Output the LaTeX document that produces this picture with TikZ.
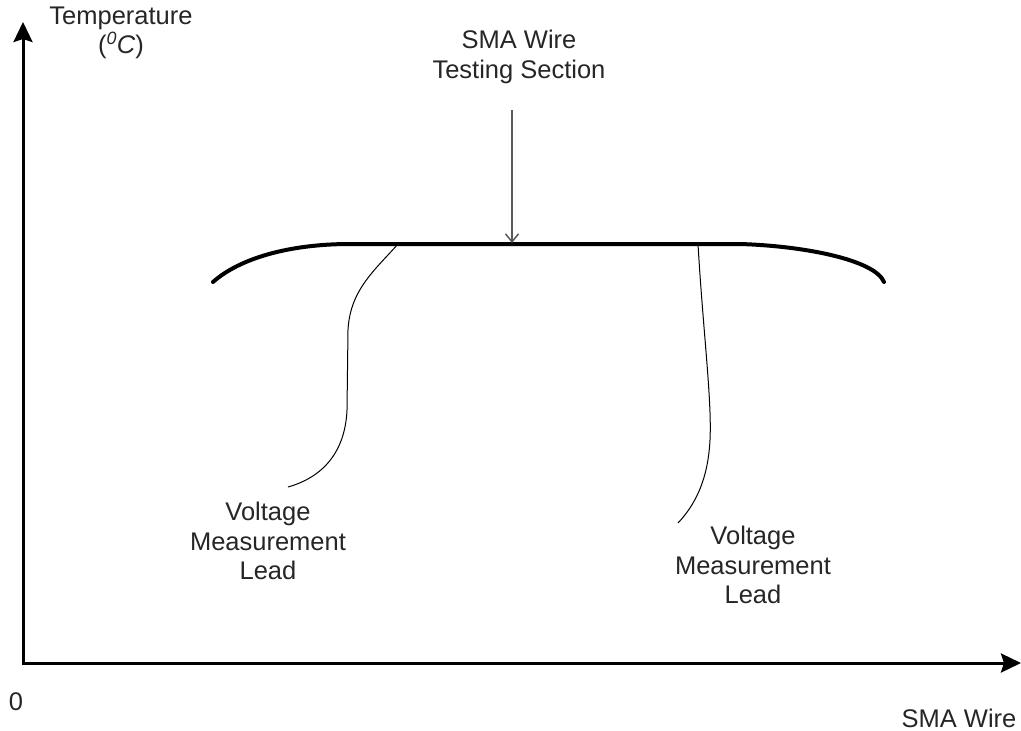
\documentclass[tikz,border=0pt]{standalone}
\usepackage{fontspec}
\setmainfont{Liberation Sans}
\usetikzlibrary{arrows.meta, positioning}
\begin{document}
\begin{tikzpicture}[
    x=1pt, y=-1pt,
    annot/.style={
        align=center,
        text=black!85,
        font=\fontsize{25.5}{29.5}\selectfont,
        inner sep=0pt
    },
    axis/.style={
        line width=3pt,
        {Stealth[length=20pt, width=19pt, inset=3pt]}-{Stealth[length=20pt, width=19pt, inset=3pt]}
    },
    wire/.style={line width=4pt, line cap=round},
    lead/.style={line width=1pt},
    pointer/.style={
        draw=black!65,
        line width=1.5pt,
        -{Straight Barb[length=8pt, width=13pt]}
    }
]
  \useasboundingbox (0,0) rectangle (1021,731);

  \coordinate (origin) at (23,663);
  \coordinate (ytip) at (23,22);
  \coordinate (xtip) at (1021,663);
  \draw[axis] (ytip) -- (origin) -- (xtip);

  \node[annot] (ylabel) at (121,33) {Temperature\\(\textit{\textsuperscript{0}C})};
  \node[annot] (zero) at (16,702) {0};
  \node[annot] (xlabel) at (959,718) {SMA Wire};

  \coordinate (wireL) at (213,282);
  \coordinate (wireR) at (884,282);
  \draw[wire] (wireL) .. controls (240,258) and (290,244) .. (350,244)
    -- (740,244) .. controls (805,246) and (875,260) .. (wireR);

  \node[annot] (secttitle) at (519,57) {SMA Wire\\Testing Section};
  \coordinate (secttop) at (512,110);
  \coordinate (sectwire) at (512,243);
  \draw[pointer] (secttop) -- (sectwire);

  \coordinate (leadLtop) at (398,244);
  \coordinate (leadLend) at (288,487);
  \draw[lead] (leadLtop) .. controls (375,270) and (350,290) .. (348,330)
    -- (347,410) .. controls (345,455) and (320,478) .. (leadLend);
  \node[annot] (leadLlabel) at (268,541) {Voltage\\Measurement\\Lead};

  \coordinate (leadRtop) at (698,244);
  \coordinate (leadRend) at (678,523);
  \draw[lead] (leadRtop) .. controls (703,330) and (712,400) .. (710,440)
    .. controls (708,480) and (695,505) .. (leadRend);
  \node[annot] (leadRlabel) at (753,565) {Voltage\\Measurement\\Lead};
\end{tikzpicture}
\end{document}
